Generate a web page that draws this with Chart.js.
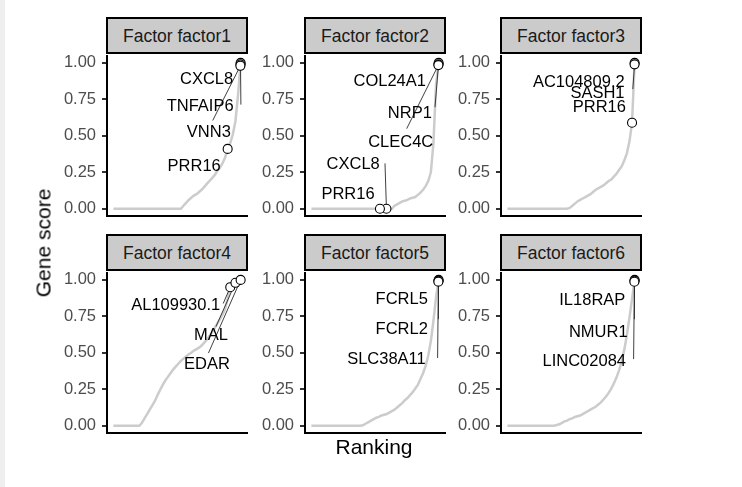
<!DOCTYPE html>
<html><head><meta charset="utf-8">
<script src="https://cdn.jsdelivr.net/npm/chart.js@4.4.1/dist/chart.umd.min.js"></script>
<style>
html,body{margin:0;padding:0;background:#fff;}
body{width:742px;height:487px;position:relative;overflow:hidden;font-family:"Liberation Sans",Arial,sans-serif;}
#band{position:absolute;left:0;top:0;width:5px;height:487px;background:#efefef;}
.strip{position:absolute;box-sizing:border-box;background:#cbcbcb;border:2px solid #000;color:#1a1a1a;font-size:17.5px;text-align:center;line-height:31px;padding-top:2px;white-space:nowrap;}
.pc{position:absolute;}
.ttl{position:absolute;color:#000;font-size:21px;line-height:21px;white-space:nowrap;}
</style></head><body>
<div id="band"></div>
<div id="wrap"></div>
<div class="ttl" id="xt" style="left:374px;top:436px;transform:translateX(-50%);">Ranking</div>
<div class="ttl" id="yt" style="left:43px;top:243px;transform:translate(-50%,-50%) rotate(-90deg);">Gene score</div>
<script>
// ---------------- data ----------------
const factorNames = ["Factor factor1","Factor factor2","Factor factor3","Factor factor4","Factor factor5","Factor factor6"];
const yTickValues = [0, 0.25, 0.5, 0.75, 1];
const rankValues = [1,2,3,4,5,6,7,8,9,10,11,12,13,14,15,16,17,18,19,20,21,22,23,24,25,26,27,28,29,30,31,32,33,34,35,36,37,38,39,40,41,42,43,44,45,46,47,48,49,50];

const score1 = [0,0,0,0,0,0,0,0,0,0,0,0,0,0,0,0,0,0,0,0,0,0,0,0,0,0,0,
  0.02,0.04,0.06,0.075,0.09,0.10,0.115,0.13,0.15,0.17,0.19,0.21,0.23,0.26,0.28,0.31,0.35,0.41,0.45,0.51,0.60,0.78,1.00];
const score2 = [0,0,0,0,0,0,0,0,0,0,0,0,0,0,0,0,0,0,0,0,0,0,0,0,0,0,0,0,0,0,0,0,
  0.02,0.03,0.04,0.05,0.055,0.06,0.07,0.075,0.08,0.095,0.11,0.13,0.155,0.19,0.25,0.45,0.85,1.00];
const score3 = [0,0,0,0,0,0,0,0,0,0,0,0,0,0,0,0,0,0,0,0,0,0,0,0,
  0.005,0.02,0.035,0.05,0.06,0.07,0.08,0.09,0.10,0.115,0.13,0.14,0.15,0.16,0.175,0.19,0.20,0.22,0.24,0.265,0.29,0.33,0.38,0.46,0.59,1.00];
const score4 = [0,0,0,0,0,0,0,0,0,0,0,
  0.02,0.05,0.08,0.11,0.14,0.17,0.21,0.245,0.28,0.31,0.335,0.36,0.385,0.405,0.425,0.445,0.46,0.475,0.49,0.50,0.515,0.525,0.535,0.55,0.57,0.59,0.615,0.64,0.67,0.70,0.73,0.76,0.80,0.87,0.95,0.97,0.98,0.99,1.00];
const score5 = [0,0,0,0,0,0,0,0,0,0,0,0,0,0,0,0,0,0,0,0,
  0.005,0.015,0.025,0.035,0.045,0.055,0.06,0.07,0.075,0.08,0.09,0.10,0.11,0.125,0.14,0.155,0.175,0.19,0.21,0.23,0.255,0.28,0.32,0.36,0.41,0.48,0.58,0.72,0.88,1.00];
const score6 = [0,0,0,0,0,0,0,0,0,0,0,0,0,0,0,0,0,0,0,
  0.005,0.01,0.02,0.03,0.035,0.045,0.05,0.06,0.065,0.07,0.08,0.09,0.10,0.11,0.12,0.13,0.145,0.16,0.18,0.20,0.225,0.255,0.29,0.33,0.38,0.44,0.52,0.62,0.74,0.87,1.00];

const genes1 = ["CXCL8","TNFAIP6","VNN3","PRR16"];
const geneRank1 = [50, 49.95, 49.9, 45];
const geneScore1 = [1.00, 0.99, 0.98, 0.41];
const genes2 = ["COL24A1","NRP1","CLEC4C","CXCL8","PRR16"];
const geneRank2 = [50, 49.95, 49.9, 29.9, 27.4];
const geneScore2 = [1.00, 0.99, 0.985, 0.0, 0.0];
const genes3 = ["AC104809.2","SASH1","PRR16"];
const geneRank3 = [50, 49.97, 49];
const geneScore3 = [1.00, 0.99, 0.59];
const genes4 = ["AL109930.1","MAL","EDAR"];
const geneRank4 = [46, 48, 50];
const geneScore4 = [0.95, 0.98, 1.00];
const genes5 = ["FCRL5","FCRL2","SLC38A11"];
const geneRank5 = [50, 49.95, 49.9];
const geneScore5 = [1.00, 0.994, 0.988];
const genes6 = ["IL18RAP","NMUR1","LINC02084"];
const geneRank6 = [50, 49.95, 49.9];
const geneScore6 = [1.00, 0.994, 0.987];

// ---------------- layout (label placement, in data units) ----------------
const labelLayout = [
  [[36.9,0.883],[34.4,0.704],[37.75,0.52],[32.1,0.288]],
  [[31.16,0.874],[38.9,0.653],[35.4,0.452],[17.1,0.305],[15.1,0.10]],
  [[28.5,0.866],[35.7,0.789],[36.4,0.693]],
  [[25.0,0.823],[38.6,0.619],[37.05,0.423]],
  [[35.8,0.866],[35.8,0.659],[29.9,0.457]],
  [[33.7,0.86],[36.0,0.642],[30.6,0.438]]
];
const leaderEnds = [
  [null,[50.1,0.714],[39.25,0.605],null],
  [null,[48.6,0.696],[37.7,0.549],[29.35,0.311],null],
  [null,[49.3,0.82],null],
  [[43.3,0.838],[40.5,0.68],[37.6,0.498]],
  [null,[49.9,0.73],[49.6,0.464]],
  [null,[49.9,0.73],[49.6,0.457]]
];
const panelLeft = [107, 305, 501, 107, 305, 501];
const panelTop = [54, 54, 54, 271, 271, 271];
const PW = 140, PH = 162, AXW = 70, PADT = 4, PADR = 12, PADB = 12;

const scores = [score1,score2,score3,score4,score5,score6];
const genes = [genes1,genes2,genes3,genes4,genes5,genes6];
const gRanks = [geneRank1,geneRank2,geneRank3,geneRank4,geneRank5,geneRank6];
const gScores = [geneScore1,geneScore2,geneScore3,geneScore4,geneScore5,geneScore6];

const FONT = '"Liberation Sans", Arial, sans-serif';
const wrap = document.getElementById('wrap');

for (let p = 0; p < 6; p++) {
  const strip = document.createElement('div');
  strip.className = 'strip';
  strip.style.left = (panelLeft[p] - 1) + 'px';
  strip.style.top = (panelTop[p] - 37) + 'px';
  strip.style.width = (PW + 2) + 'px';
  strip.style.height = '37px';
  strip.textContent = factorNames[p];

  const cv = document.createElement('canvas');
  cv.className = 'pc';
  const W = AXW + PW + PADR, H = PADT + PH + PADB;
  cv.width = W; cv.height = H;
  cv.style.width = W + 'px'; cv.style.height = H + 'px';
  cv.style.left = (panelLeft[p] - AXW) + 'px';
  cv.style.top = (panelTop[p] - PADT) + 'px';
  wrap.appendChild(cv);
  wrap.appendChild(strip);

  const labelPlugin = {
    id: 'geneLabels' + p,
    beforeDatasetDraw(chart, args) {
      if (args.index !== 1) return;
      const ctx = chart.ctx, xs = chart.scales.x, ys = chart.scales.y;
      ctx.save();
      ctx.strokeStyle = 'rgba(30,30,30,0.85)';
      ctx.lineWidth = 1;
      leaderEnds[p].forEach((e, i) => {
        if (!e) return;
        ctx.beginPath();
        ctx.moveTo(xs.getPixelForValue(gRanks[p][i]), ys.getPixelForValue(gScores[p][i]));
        ctx.lineTo(xs.getPixelForValue(e[0]), ys.getPixelForValue(e[1]));
        ctx.stroke();
      });
      ctx.restore();
    },
    afterDatasetsDraw(chart) {
      const ctx = chart.ctx, xs = chart.scales.x, ys = chart.scales.y;
      ctx.save();
      ctx.font = '16.5px ' + FONT;
      ctx.fillStyle = '#000';
      ctx.textAlign = 'center';
      ctx.textBaseline = 'middle';
      genes[p].forEach((g, i) => {
        const pos = labelLayout[p][i];
        ctx.fillText(g, xs.getPixelForValue(pos[0]), ys.getPixelForValue(pos[1]));
      });
      ctx.restore();
    }
  };

  new Chart(cv, {
    type: 'scatter',
    data: {
      datasets: [
        {
          data: rankValues.map((r, i) => ({x: r, y: scores[p][i]})),
          showLine: true, borderColor: '#cccccc', borderWidth: 2.5,
          pointRadius: 0, tension: 0, order: 2
        },
        {
          data: gRanks[p].map((r, i) => ({x: r, y: gScores[p][i]})),
          pointRadius: 4.5, pointBackgroundColor: '#ffffff',
          pointBorderColor: '#000000', pointBorderWidth: 1.1, order: 1
        }
      ]
    },
    options: {
      responsive: false, animation: false, devicePixelRatio: 1, events: [],
      layout: {padding: {left: 0, top: PADT, right: PADR, bottom: PADB}},
      plugins: {legend: {display: false}, tooltip: {enabled: false}},
      scales: {
        x: {
          type: 'linear', min: -1.45, max: 52.45,
          ticks: {display: false},
          grid: {display: false},
          border: {display: true, color: '#000', width: 2},
          afterFit(s) { s.height = 0; s.paddingLeft = 0; s.paddingRight = 0; }
        },
        y: {
          type: 'linear', min: -0.05, max: 1.05,
          afterBuildTicks(s) { s.ticks = yTickValues.map(v => ({value: v})); },
          ticks: {
            color: '#4d4d4d', padding: 6,
            font: {family: FONT, size: 16.5},
            callback: v => Number(v).toFixed(2)
          },
          grid: {display: true, drawOnChartArea: false, drawTicks: true, tickLength: 5, color: '#333333', lineWidth: 2},
          border: {display: true, color: '#000', width: 2},
          afterFit(s) { s.width = AXW; s.paddingTop = 0; s.paddingBottom = 0; }
        }
      }
    },
    plugins: [labelPlugin]
  });
}
</script>
</body></html>
